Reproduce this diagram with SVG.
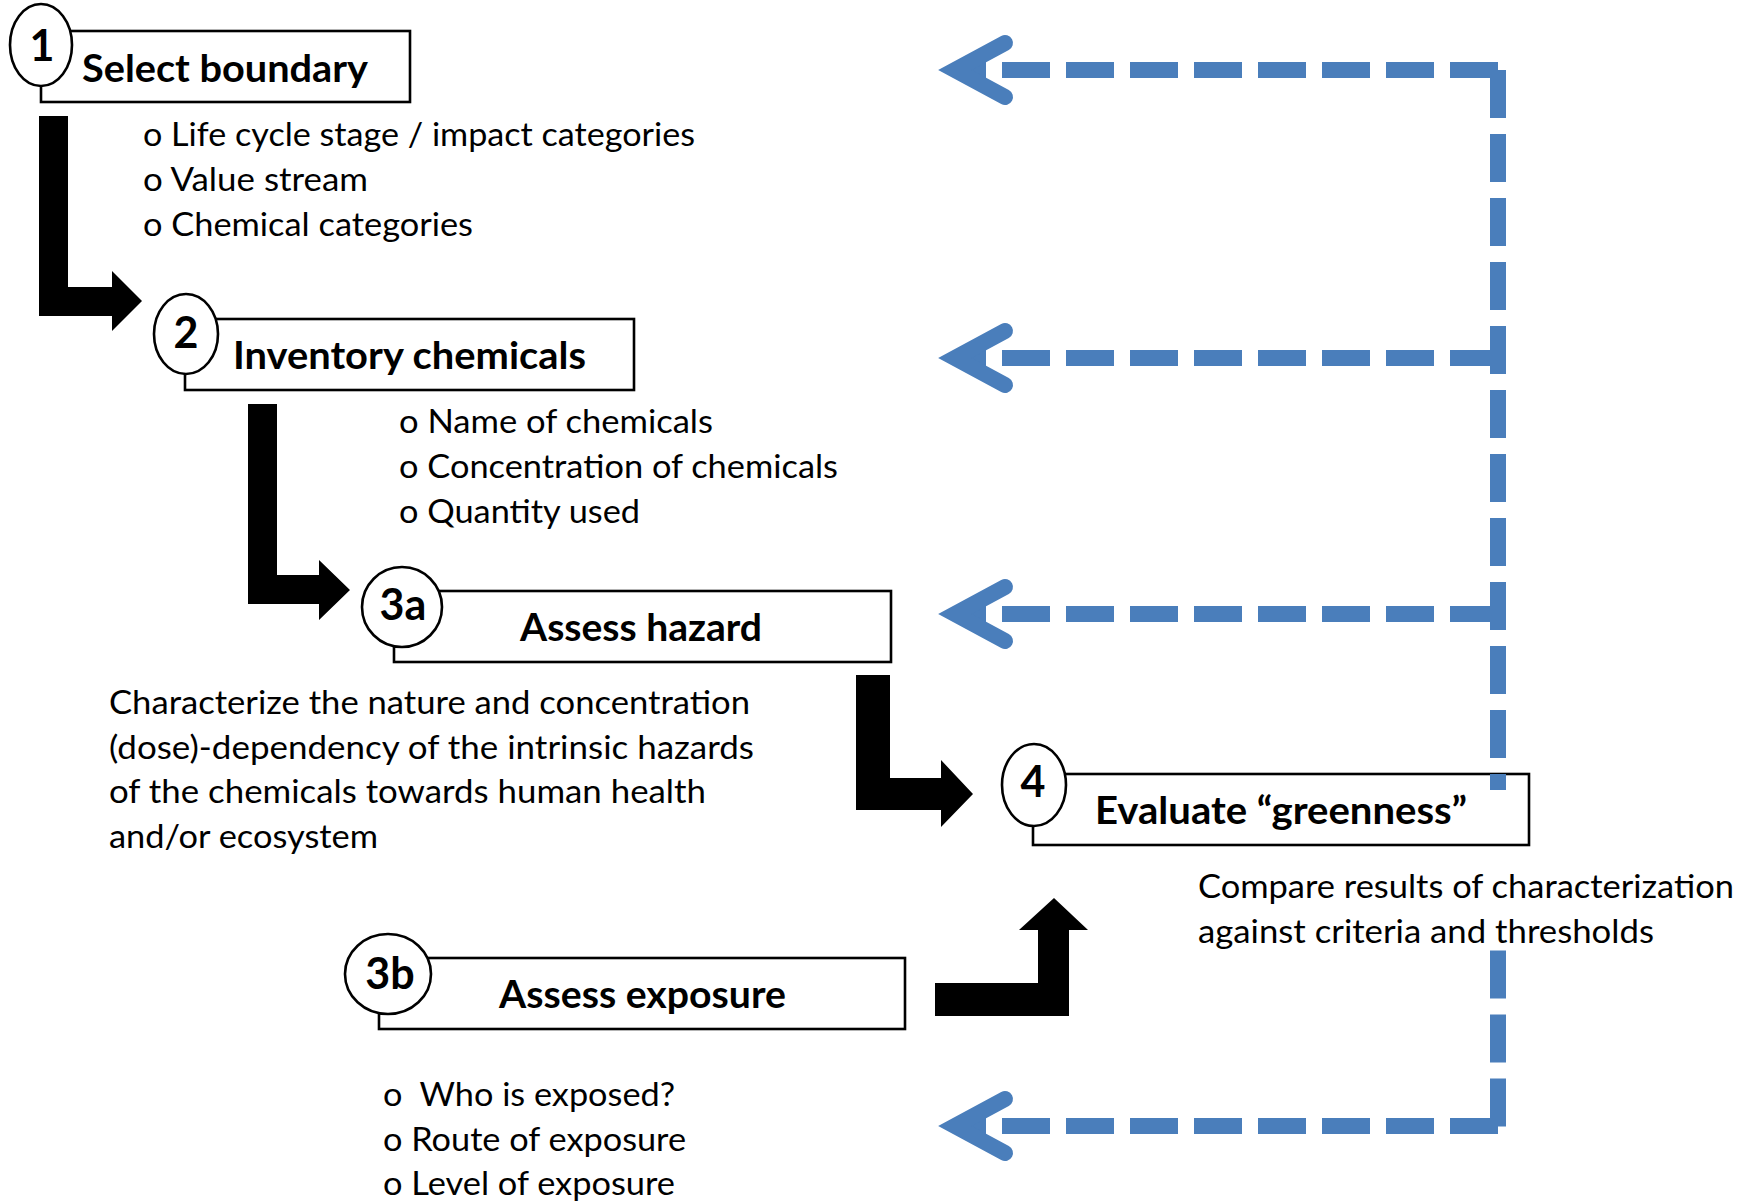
<svg xmlns="http://www.w3.org/2000/svg" width="1750" height="1201" viewBox="0 0 1750 1201">
<defs>
<style>
.box{fill:#fff;stroke:#000;stroke-width:2.6}
.badge{fill:#fff;stroke:#000;stroke-width:2.6}
.num{font-family:Lato,'Noto Sans','Liberation Sans',sans-serif;font-weight:700;font-size:43px;text-anchor:middle;fill:#000}
.title{font-family:Lato,'Noto Sans','Liberation Sans',sans-serif;font-weight:700;font-size:38.5px;fill:#000}
.body{font-family:Lato,'Noto Sans','Liberation Sans',sans-serif;font-size:33.6px;fill:#000}
.flow{fill:#000}
.fb{fill:none;stroke:#4a7ebb;stroke-width:16;stroke-dasharray:48 16}
.head{fill:none;stroke:#4a7ebb;stroke-width:16;stroke-linecap:round;stroke-linejoin:miter;stroke-miterlimit:10}
</style>
</defs>
<rect x="0" y="0" width="1750" height="1201" fill="#fff"/>

<g id="node-1">
<rect class="box" x="41" y="31" width="369" height="71"/>
<ellipse class="badge" cx="41" cy="45" rx="31" ry="41"/>
<text class="num" x="42" y="61">1</text>
<text class="title" x="82" y="82" textLength="286" lengthAdjust="spacingAndGlyphs">Select boundary</text>
<text class="body" x="143" y="146" textLength="552" lengthAdjust="spacingAndGlyphs">o Life cycle stage / impact categories</text>
<text class="body" x="143" y="191" textLength="225" lengthAdjust="spacingAndGlyphs">o Value stream</text>
<text class="body" x="143" y="236" textLength="330" lengthAdjust="spacingAndGlyphs">o Chemical categories</text>
</g>

<g id="node-2">
<rect class="box" x="185" y="319" width="449" height="71"/>
<ellipse class="badge" cx="186" cy="334" rx="32" ry="40"/>
<text class="num" x="186" y="348">2</text>
<text class="title" x="233" y="369" textLength="353" lengthAdjust="spacingAndGlyphs">Inventory chemicals</text>
<text class="body" x="399" y="433" textLength="314" lengthAdjust="spacingAndGlyphs">o Name of chemicals</text>
<text class="body" x="399" y="478" textLength="439" lengthAdjust="spacingAndGlyphs">o Concentration of chemicals</text>
<text class="body" x="399" y="523" textLength="241" lengthAdjust="spacingAndGlyphs">o Quantity used</text>
</g>

<g id="node-3a">
<rect class="box" x="394" y="591" width="497" height="71"/>
<ellipse class="badge" cx="402" cy="607" rx="40" ry="40"/>
<text class="num" x="403" y="620">3a</text>
<text class="title" x="520" y="641" textLength="242" lengthAdjust="spacingAndGlyphs">Assess hazard</text>
<text class="body" x="109" y="714" textLength="641" lengthAdjust="spacingAndGlyphs">Characterize the nature and concentration</text>
<text class="body" x="109" y="758.5" textLength="645" lengthAdjust="spacingAndGlyphs">(dose)-dependency of the intrinsic hazards</text>
<text class="body" x="109" y="803" textLength="597" lengthAdjust="spacingAndGlyphs">of the chemicals towards human health</text>
<text class="body" x="109" y="847.5" textLength="269" lengthAdjust="spacingAndGlyphs">and/or ecosystem</text>
</g>

<g id="node-3b">
<rect class="box" x="379" y="958" width="526" height="71"/>
<ellipse class="badge" cx="388" cy="974" rx="43" ry="40"/>
<text class="num" x="390" y="989">3b</text>
<text class="title" x="499" y="1008" textLength="287" lengthAdjust="spacingAndGlyphs">Assess exposure</text>
<text class="body" x="383" y="1106" textLength="292" lengthAdjust="spacingAndGlyphs" xml:space="preserve">o  Who is exposed?</text>
<text class="body" x="383" y="1151" textLength="303" lengthAdjust="spacingAndGlyphs">o Route of exposure</text>
<text class="body" x="383" y="1195" textLength="292" lengthAdjust="spacingAndGlyphs">o Level of exposure</text>
</g>

<g id="node-4">
<rect class="box" x="1033" y="774" width="496" height="71"/>
<ellipse class="badge" cx="1034" cy="785" rx="32" ry="41"/>
<text class="num" x="1033" y="797">4</text>
<text class="title" x="1095" y="824" textLength="372" lengthAdjust="spacingAndGlyphs">Evaluate “greenness”</text>
<text class="body" x="1198" y="897.5" textLength="536" lengthAdjust="spacingAndGlyphs">Compare results of characterization</text>
<text class="body" x="1198" y="942.5" textLength="456" lengthAdjust="spacingAndGlyphs">against criteria and thresholds</text>
</g>

<g id="connectors">
<polygon class="flow" points="39,116 68,116 68,287 112,287 112,271 142,301 112,331 112,316 39,316"/>
<polygon class="flow" points="248,404 277,404 277,575 319,575 319,560 350,590 319,620 319,604 248,604"/>
<polygon class="flow" points="856,675 890,675 890,778 941,778 941,760 973,794 941,827 941,810 856,810"/>
<polygon class="flow" points="935,983 1038,983 1038,930 1019,930 1054,898 1088,930 1069,930 1069,1016 935,1016"/>

<path class="fb" d="M1498,70 H966"/>
<path class="fb" d="M1498,358 H966"/>
<path class="fb" d="M1498,614 H966"/>
<path class="fb" d="M1498,1126 H966"/>
<path class="fb" d="M1498,70 V790"/>
<path class="fb" d="M1498,1126.5 V950"/>
<path class="head" d="M1005,43 L955,70 L1005,97"/>
<path class="head" d="M1005,331 L955,358 L1005,385"/>
<path class="head" d="M1005,587 L955,614 L1005,641"/>
<path class="head" d="M1005,1099 L955,1126 L1005,1153"/>
</g>
</svg>
